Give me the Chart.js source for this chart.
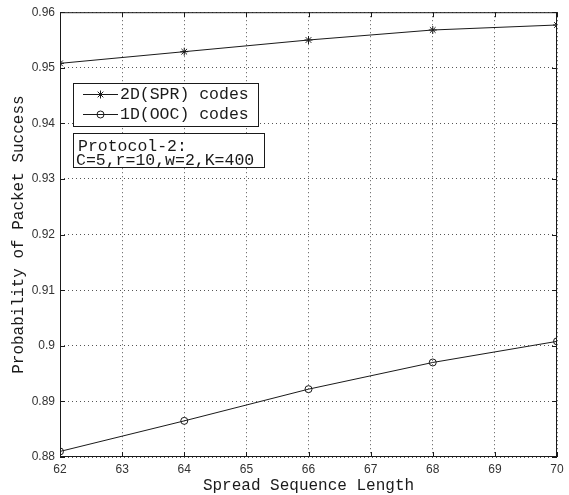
<!DOCTYPE html>
<html>
<head>
<meta charset="utf-8">
<script src="https://cdn.jsdelivr.net/npm/chart.js@4/dist/chart.umd.min.js"></script>
<style>
  html, body { margin: 0; padding: 0; background: #fff; }
  #wrap { width: 569px; height: 495px; }
</style>
</head>
<body>
<div id="wrap"><canvas id="chart" width="569" height="495"></canvas></div>
<script>
const lengths = [62, 64, 66, 68, 70];
const spr2d = [0.9508, 0.9529, 0.9550, 0.9568, 0.9577];
const ooc1d = [0.8810, 0.8865, 0.8922, 0.8970, 0.9008];
const xTicks = [62, 63, 64, 65, 66, 67, 68, 69, 70];
const yTicks = [0.88, 0.89, 0.90, 0.91, 0.92, 0.93, 0.94, 0.95, 0.96];
const seriesNames = ["2D(SPR) codes", "1D(OOC) codes"];
const noteLines = ["Protocol-2:", "C=5,r=10,w=2,K=400"];

const mono = '"Liberation Mono", "Courier New", monospace';
const ink = '#1a1a1a';

const toPoints = (xs, ys) => xs.map((x, i) => ({x: x, y: ys[i]}));

// frame, inward ticks, legend box, note box and axis titles
const matlabDecor = {
    id: 'matlabDecor',
    afterDraw(chart) {
        const ctx = chart.ctx;
        const a = chart.chartArea;
        const xs = chart.scales.x, ys = chart.scales.y;
        ctx.save();
        ctx.strokeStyle = ink;
        ctx.lineWidth = 1;
        ctx.setLineDash([]);
        ctx.strokeRect(a.left + 0.5, a.top + 0.5, a.right - a.left - 1, a.bottom - a.top - 1);

        ctx.beginPath();
        xTicks.forEach(v => {
            const px = Math.round(xs.getPixelForValue(v)) + 0.5;
            ctx.moveTo(px, a.bottom); ctx.lineTo(px, a.bottom - 5);
            ctx.moveTo(px, a.top); ctx.lineTo(px, a.top + 5);
        });
        yTicks.forEach(v => {
            const py = Math.round(ys.getPixelForValue(v)) + 0.5;
            ctx.moveTo(a.left, py); ctx.lineTo(a.left + 5, py);
            ctx.moveTo(a.right, py); ctx.lineTo(a.right - 5, py);
        });
        ctx.stroke();

        // legend
        ctx.fillStyle = '#fff';
        ctx.fillRect(73, 83, 185, 43);
        ctx.strokeRect(73.5, 83.5, 185, 43);
        ctx.font = '16.5px ' + mono;
        ctx.textBaseline = 'middle';
        const styles = ['star', 'circle'];
        [94, 114].forEach((y, i) => {
            ctx.beginPath();
            ctx.moveTo(83, y + 0.5); ctx.lineTo(118, y + 0.5);
            ctx.stroke();
            ctx.fillStyle = 'rgba(0,0,0,0)';
            Chart.helpers.drawPoint(ctx, {pointStyle: styles[i], radius: i ? 3.5 : 4, borderWidth: 1}, 100.5, y + 0.5);
            ctx.fillStyle = ink;
            ctx.fillText(seriesNames[i], 120, y + 1);
        });

        // note box
        ctx.fillStyle = '#fff';
        ctx.fillRect(73, 133, 191, 34);
        ctx.strokeRect(73.5, 133.5, 191, 34);
        ctx.fillStyle = ink;
        ctx.fillText(noteLines[0], 78, 147);
        ctx.fillText(noteLines[1], 76, 161);

        // axis titles
        ctx.font = '16px ' + mono;
        ctx.textAlign = 'center';
        ctx.fillText('Spread Sequence Length', (a.left + a.right) / 2, 486);
        ctx.translate(19, (a.top + a.bottom) / 2);
        ctx.rotate(-Math.PI / 2);
        ctx.fillText('Probability of Packet Success', 0, 0);
        ctx.restore();
    }
};

new Chart(document.getElementById('chart').getContext('2d'), {
    type: 'line',
    data: {
        datasets: [{
            label: seriesNames[0],
            data: toPoints(lengths, spr2d),
            borderColor: ink,
            borderWidth: 1,
            pointStyle: 'star',
            pointRadius: 4,
            pointBorderColor: ink,
            pointBorderWidth: 1,
            tension: 0
        }, {
            label: seriesNames[1],
            data: toPoints(lengths, ooc1d),
            borderColor: ink,
            borderWidth: 1,
            pointStyle: 'circle',
            pointRadius: 3.5,
            pointBackgroundColor: 'rgba(0,0,0,0)',
            pointBorderColor: ink,
            pointBorderWidth: 1,
            tension: 0
        }]
    },
    options: {
        responsive: false,
        animation: false,
        layout: {padding: {left: 0, top: 12, right: 12, bottom: 0}},
        plugins: {
            legend: {display: false},
            tooltip: {enabled: false}
        },
        scales: {
            x: {
                type: 'linear',
                min: 62,
                max: 70,
                afterFit: scale => { scale.height = 38; },
                afterBuildTicks: scale => { scale.ticks = xTicks.map(v => ({value: v})); },
                ticks: {
                    color: '#333',
                    font: {family: '"Liberation Sans", Arial, sans-serif', size: 12},
                    padding: 5,
                    maxRotation: 0
                },
                grid: {color: '#555', drawTicks: false},
                border: {display: false, dash: [1, 3]}
            },
            y: {
                min: 0.88,
                max: 0.96,
                afterFit: scale => { scale.width = 60; },
                afterBuildTicks: scale => { scale.ticks = yTicks.map(v => ({value: v})); },
                ticks: {
                    color: '#333',
                    font: {family: '"Liberation Sans", Arial, sans-serif', size: 12},
                    padding: 5,
                    callback: v => String(+v.toFixed(2))
                },
                grid: {color: '#555', drawTicks: false},
                border: {display: false, dash: [1, 3]}
            }
        }
    },
    plugins: [matlabDecor]
});
</script>
</body>
</html>
